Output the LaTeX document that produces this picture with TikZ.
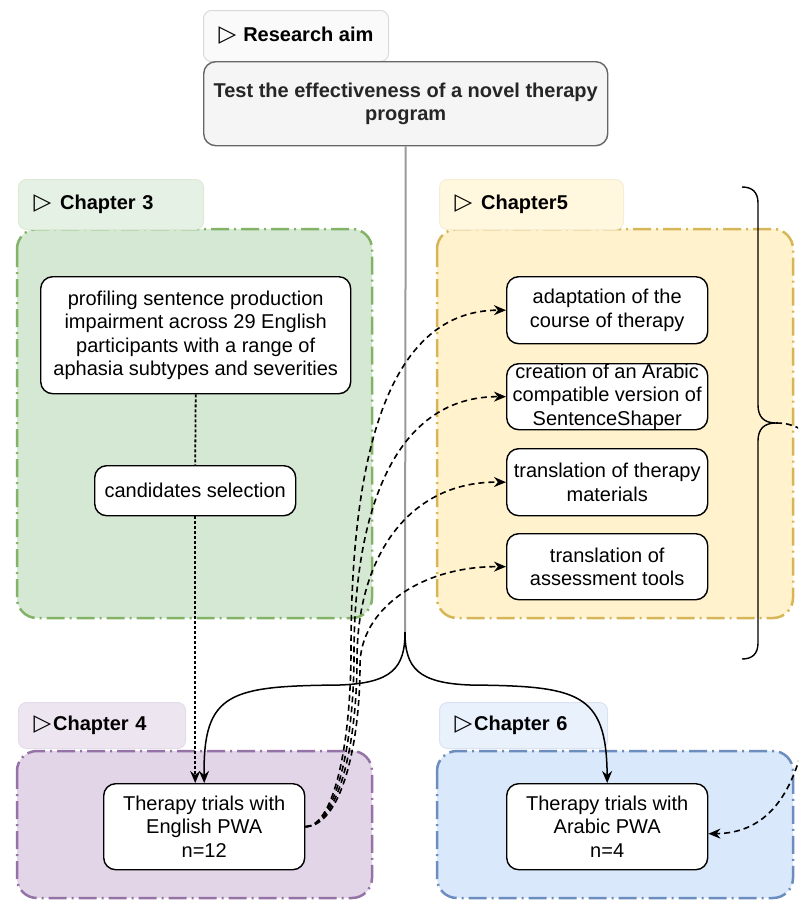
\documentclass[tikz,border=0pt]{standalone}
\usepackage{fontspec}
\setmainfont{Liberation Sans}
\newfontfamily\symfont{DejaVu Sans}
\usetikzlibrary{arrows.meta}

\definecolor{greenfill}{HTML}{D5E8D4}
\definecolor{greenline}{HTML}{82B366}
\definecolor{yellowfill}{HTML}{FFF2CC}
\definecolor{yellowline}{HTML}{D6B656}
\definecolor{purplefill}{HTML}{E1D5E7}
\definecolor{purpleline}{HTML}{9673A6}
\definecolor{bluefill}{HTML}{DAE8FC}
\definecolor{blueline}{HTML}{6C8EBF}
\definecolor{greyfill}{HTML}{F5F5F5}
\definecolor{greyline}{HTML}{666666}
\definecolor{trunk}{HTML}{9A9A9A}

\newcommand{\labtri}{{\symfont\fontsize{23}{23}\selectfont ▷}}

\tikzset{
  container/.style={rounded corners=20pt, line width=2.5pt,
    dash pattern=on 18pt off 5pt on 2pt off 5pt},
  chaplabel/.style={rounded corners=8pt, line width=1pt, anchor=north west,
    inner xsep=15pt, inner ysep=0pt, align=left,
    font=\fontsize{20}{23.3}\selectfont\bfseries},
  stepbox/.style={draw=black, fill=white, rounded corners=12pt, line width=1.4pt,
    anchor=north west, inner sep=0pt, align=center, minimum width=201pt},
  dasharrow/.style={line width=1.6pt, dash pattern=on 6pt off 4pt,
    -{Stealth[length=12pt,width=10pt]}},
  dotline/.style={line width=1.8pt, dash pattern=on 3pt off 2pt},
  flowarrow/.style={line width=1.5pt, -{Stealth[length=12pt,width=10pt]}},
}

\begin{document}
\begin{tikzpicture}[x=1pt, y=-1pt, font=\fontsize{20}{23.3}\selectfont]
\useasboundingbox (0,0) rectangle (798,902);
\clip (0,0) rectangle (798,902);

% chapter containers
\fill[greenfill]  (17,229) [rounded corners=20pt] rectangle (372,618);
\draw[container, greenline] (17,229) rectangle (372,618);
\fill[yellowfill] (437,229) [rounded corners=20pt] rectangle (793,618);
\draw[container, yellowline] (437,229) rectangle (793,618);
\fill[purplefill] (17,751) [rounded corners=20pt] rectangle (372,898);
\draw[container, purpleline] (17,751) rectangle (372,898);
\fill[bluefill]   (437,751) [rounded corners=20pt] rectangle (793,898);
\draw[container, blueline] (437,751) rectangle (793,898);

% chapter tabs
\node[chaplabel, fill=greenfill!60!white, draw=greenline!28!white,
      text width=155pt, minimum height=50pt] (ch3lab) at (18,179)
      {\labtri\hspace{9pt}Chapter 3};
\node[chaplabel, fill=yellowfill!65!white, draw=yellowline!25!white,
      text width=154pt, minimum height=50pt] (ch5lab) at (439,179)
      {\labtri\hspace{9pt}Chapter5};
\node[chaplabel, fill=purplefill!60!white, draw=purpleline!25!white,
      text width=137pt, minimum height=46pt] (ch4lab) at (18,702)
      {\labtri\hspace{2pt}Chapter 4};
\node[chaplabel, fill=bluefill!60!white, draw=blueline!25!white,
      text width=138pt, minimum height=46pt] (ch6lab) at (439,702)
      {\labtri\hspace{2pt}Chapter 6};

% research aim
\node[rounded corners=8pt, line width=1pt, fill=greyfill!50!white,
      draw=greyline!25!white, anchor=north west, inner sep=0pt,
      minimum width=185pt, minimum height=51pt,
      font=\fontsize{20}{23.3}\selectfont\bfseries] (ralab) at (203,10)
      {\labtri\hspace{7pt}Research aim};
\node[rounded corners=12pt, line width=1.4pt, fill=greyfill, draw=greyline,
      anchor=north west, inner sep=0pt, minimum width=404pt, minimum height=84pt,
      align=center, font=\fontsize{20}{23.3}\selectfont\bfseries, text=black!85] (aim) at (203,61)
      {Test the effectiveness of a novel therapy\\program};

% chapter 3 steps
\node[stepbox, minimum width=310pt, minimum height=117pt] (prof) at (40,276)
  {profiling sentence production\\impairment across 29 English\\participants with a range of\\aphasia subtypes and severities};
\node[stepbox, minimum height=50pt] (cand) at (94,465) {candidates selection};

% chapter 5 steps
\node[stepbox, minimum height=67pt] (b1) at (506,276) {adaptation of the\\course of therapy};
\node[stepbox, minimum height=66pt] (b2) at (506,363) {creation of an Arabic\\compatible version of\\SentenceShaper};
\node[stepbox, minimum height=67pt] (b3) at (506,448) {translation of therapy\\materials};
\node[stepbox, minimum height=66pt] (b4) at (506,533) {translation of\\assessment tools};

% therapy trials
\node[stepbox, minimum height=86pt] (eng) at (103,783) {Therapy trials with\\English PWA\\n=12};
\node[stepbox, minimum height=86pt] (ara) at (506,783) {Therapy trials with\\Arabic PWA\\n=4};

% brace grouping the chapter 5 work
\coordinate (bracetip) at (776,423);
\draw[line width=1.4pt] (742,187) .. controls (752,187) and (758,192) .. (758,203)
  -- (758,405) .. controls (758,417) and (764,423) .. (bracetip)
  .. controls (764,423) and (758,429) .. (758,441)
  -- (758,643) .. controls (758,654) and (752,659) .. (742,659);

% trunk from the aim and its split
\coordinate (split) at (405,632);
\draw[trunk, line width=2pt] (aim.south) -- (split);
\draw[flowarrow] (split) .. controls (405,668) and (392,683) .. (340,685)
  .. controls (230,686) and (203,692) .. (eng.north);
\draw[flowarrow] (split) .. controls (405,668) and (418,683) .. (470,685)
  .. controls (578,686) and (606.5,692) .. (ara.north);

% chapter 3 flow
\draw[dotline] (prof.south) -- (cand.north);
\draw[dotline, -{Stealth[length=12pt,width=10pt]}] (cand.south) -- (cand.south |- eng.north);

% English trials feeding the chapter 5 work
\draw[dasharrow] (eng.east) .. controls (335,826) and (351,740) .. (351,650)
  .. controls (351,450) and (390,310) .. (b1.west);
\draw[dasharrow] (eng.east) .. controls (337,826) and (354,740) .. (354,655)
  .. controls (354,500) and (400,396) .. (b2.west);
\draw[dasharrow] (eng.east) .. controls (339,826) and (357,742) .. (357,660)
  .. controls (357,555) and (410,481) .. (b3.west);
\draw[dasharrow] (eng.east) .. controls (341,826) and (360,745) .. (360,665)
  .. controls (360,610) and (420,566) .. (b4.west);

% chapter 5 work feeding the Arabic trials
\draw[dasharrow] (bracetip) .. controls (846,423) and (815,529) .. (815,600)
  .. controls (815,700) and (810,833) .. ([yshift=-7pt]ara.east);
\end{tikzpicture}
\end{document}
